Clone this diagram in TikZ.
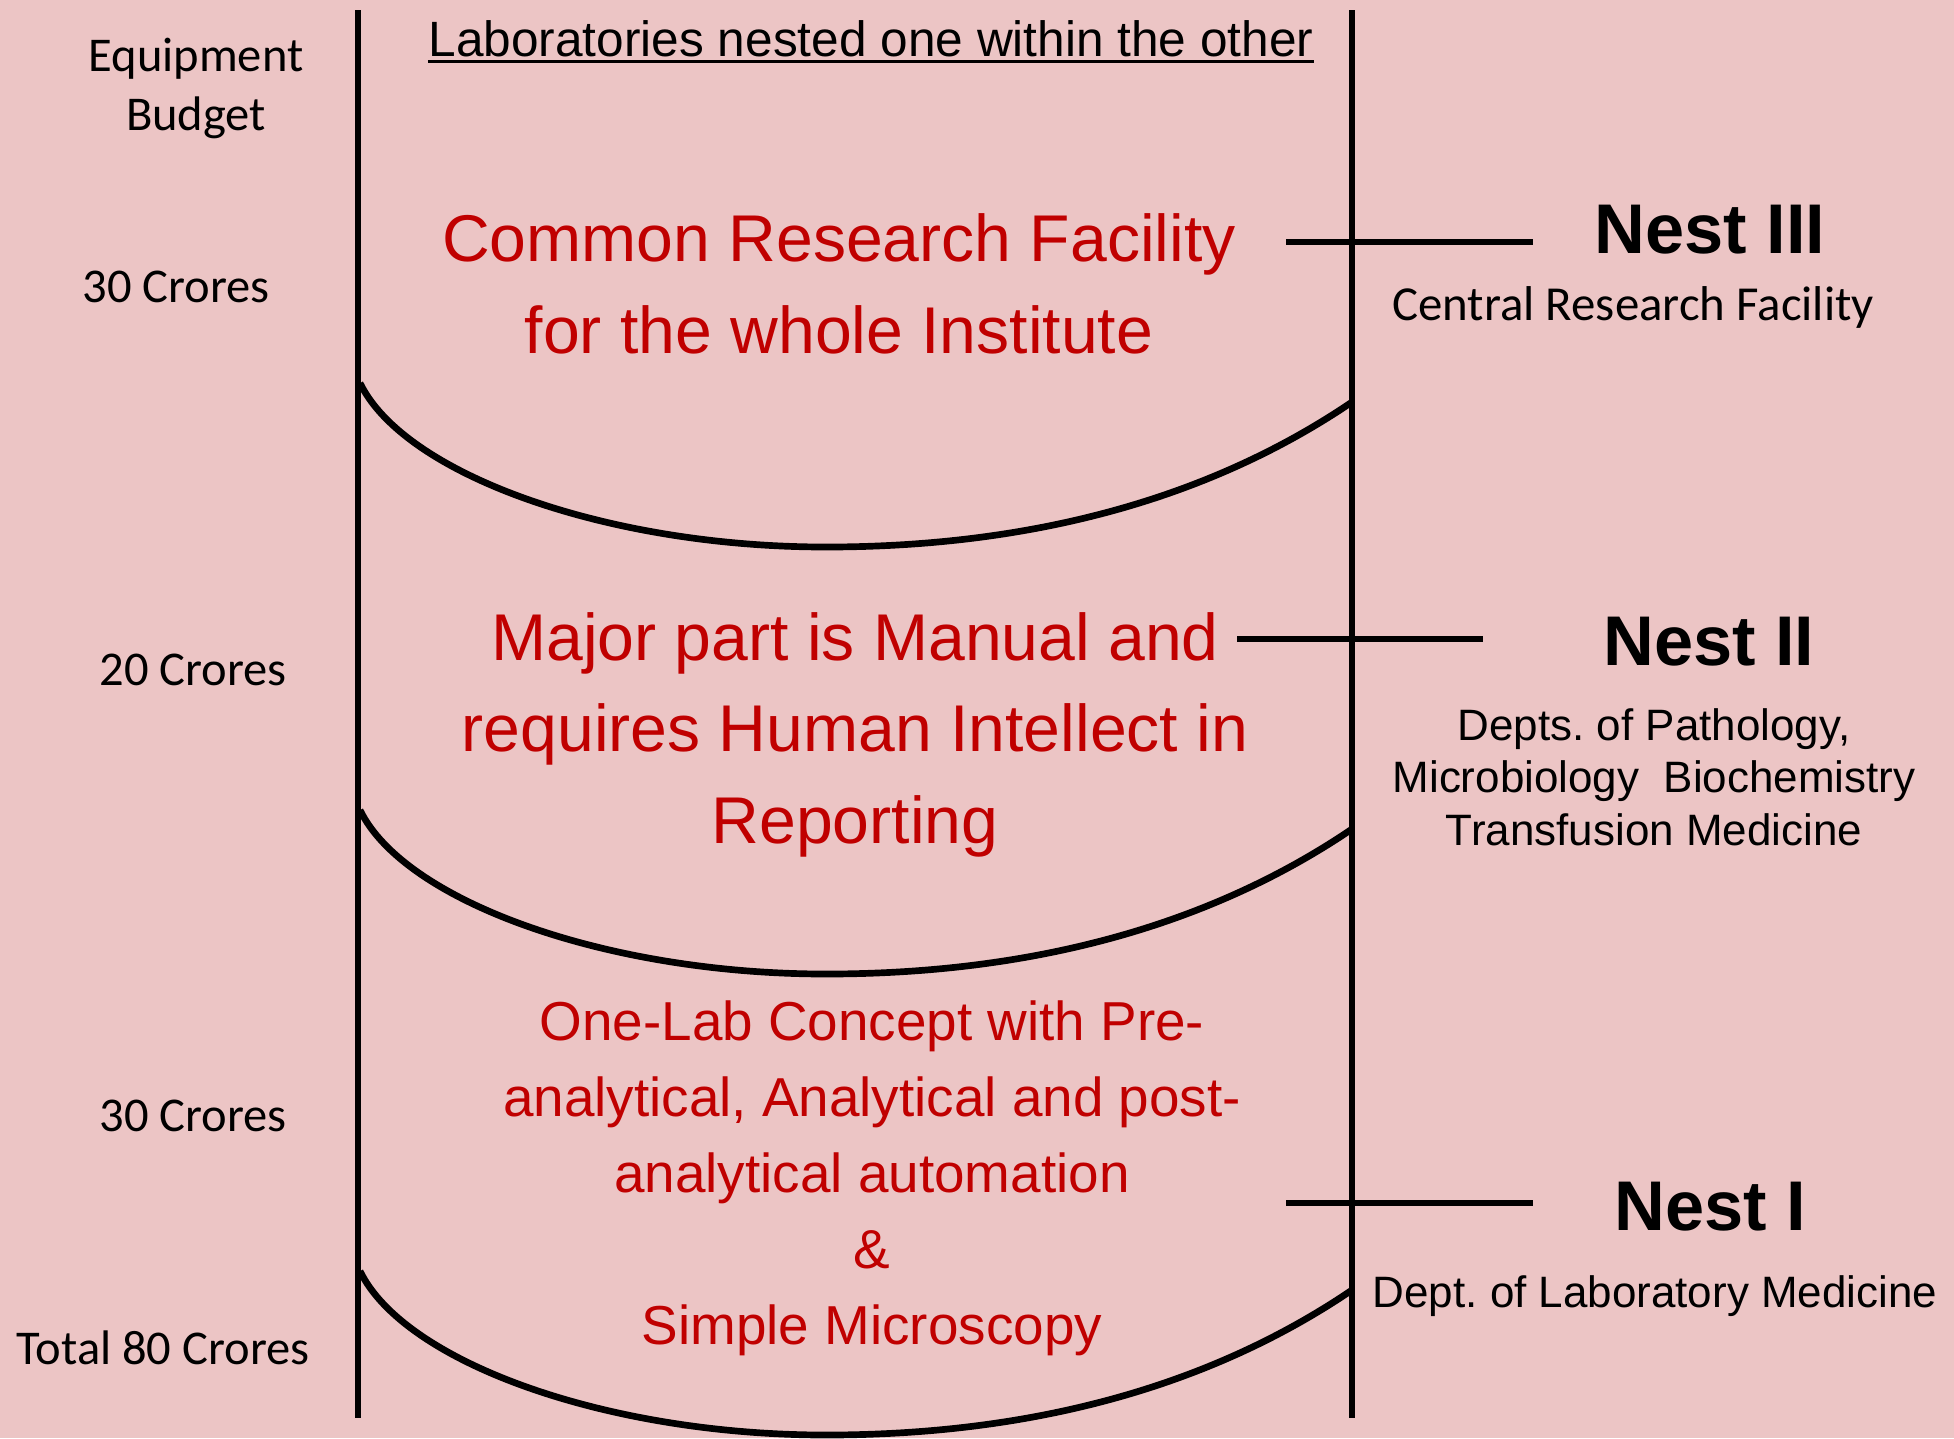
\documentclass[tikz,border=0pt]{standalone}
\usepackage{fontspec}
\setmainfont{Liberation Sans}
\newfontfamily\calibri{Carlito}
\usetikzlibrary{positioning}
\definecolor{bgpink}{RGB}{236,197,197}
\definecolor{labred}{RGB}{192,0,0}
\frenchspacing

\begin{document}
\begin{tikzpicture}[x=0.01cm, y=-0.01cm,
  every node/.style={inner sep=0pt, anchor=base},
  budget/.style={font=\calibri\fontsize{13.8}{16.7}\selectfont, align=center},
  bigred/.style={font=\fontsize{18.8}{25.9}\selectfont, text=labred, align=center},
  smallred/.style={font=\fontsize{15.6}{21.6}\selectfont, text=labred, align=center},
  nestname/.style={font=\bfseries\fontsize{20}{24}\selectfont},
  dept/.style={font=\fontsize{12.5}{14.8}\selectfont, align=center},
  wall/.style={line width=1.7pt},
  bowl/.style={line width=1.9pt},
  link/.style={line width=1.8pt}]
\fill[bgpink] (0,0) rectangle (1954,1438);
\useasboundingbox (0,0) rectangle (1954,1438);

% the two walls and the three nested bowls
\draw[wall] (358,10) -- (358,1418);
\draw[wall] (1352,10) -- (1352,1418);
\foreach \dy in {0,427,888}
  \draw[bowl] (360,383+\dy) .. controls (404,474+\dy) and (606,547+\dy) .. (826,547+\dy)
    .. controls (1076,547+\dy) and (1243,476+\dy) .. (1352,402+\dy);

% heading
\node[font=\fontsize{14.1}{17}\selectfont] (title) at (871,56) {Laboratories nested one within the other};
\draw[line width=0.85pt] ([yshift=-1.7pt]title.base west) -- ([yshift=-1.7pt]title.base east);

% budget column (multi-line nodes sit on their last line)
\node[budget] (equip) at (196,130) {Equipment\\Budget};
\node[budget] (cr3) at (176,302) {30 Crores};
\node[budget] (cr2) at (193,685) {20 Crores};
\node[budget] (cr1) at (193,1131) {30 Crores};
\node[budget] (total) at (163,1364) {Total 80 Crores};

% what each nest holds
\node[bigred] (crf) at (839,353) {Common Research Facility\\for the whole Institute};
\node[bigred] (manual) at (855,843) {Major part is Manual and\\requires Human Intellect in\\Reporting};
\node[smallred] (onelab) at (872,1344) {One-Lab Concept with Pre-\\analytical, Analytical and post-\\analytical automation\\\&\\Simple Microscopy};

% nest names
\node[nestname] (nest3) at (1710,253) {Nest III};
\node[font=\calibri\fontsize{13.9}{16}\selectfont] (nest3dept) at (1633,320) {Central Research Facility};
\node[nestname] (nest2) at (1709,665) {Nest II};
\node[dept] (nest2dept) at (1654,845) {Depts. of Pathology,\\Microbiology\ \ Biochemistry\\Transfusion Medicine};
\node[nestname] (nest1) at (1710,1230) {Nest I};
\node[dept] (nest1dept) at (1655,1307) {Dept. of Laboratory Medicine};

% pointers to the nest names
\coordinate (p3a) at (1286,242);
\coordinate (p3b) at (1533,242);
\coordinate (p2a) at (1237,639);
\coordinate (p2b) at (1483,639);
\coordinate (p1a) at (1286,1203);
\coordinate (p1b) at (1533,1203);
\draw[link] (p3a) -- (p3b);
\draw[link] (p2a) -- (p2b);
\draw[link] (p1a) -- (p1b);
\end{tikzpicture}
\end{document}
